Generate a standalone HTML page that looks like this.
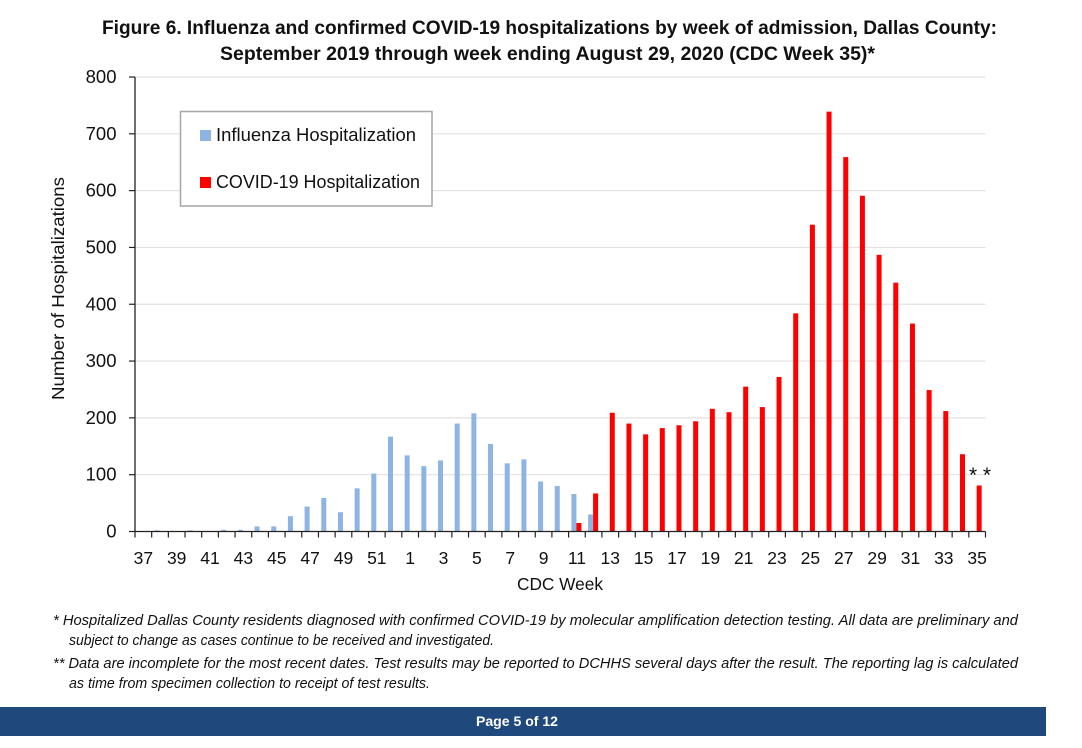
<!DOCTYPE html>
<html lang="en">
<head>
<meta charset="utf-8">
<title>Figure 6. Influenza and confirmed COVID-19 hospitalizations</title>
<style>
html,body{margin:0;padding:0;background:#fff;width:1082px;height:748px;overflow:hidden}
svg{display:block;font-family:"Liberation Sans",sans-serif}
text{fill:#111}
</style>
</head>
<body>
<svg id="chart" width="1082" height="748" viewBox="0 0 1082 748" xmlns="http://www.w3.org/2000/svg">
  <rect x="0" y="0" width="1082" height="748" fill="#fff"/>
  <text x="102" y="34" font-size="19.5" font-weight="bold" textLength="895" lengthAdjust="spacingAndGlyphs">Figure 6. Influenza and confirmed COVID-19 hospitalizations by week of admission, Dallas County:</text>
  <text x="220" y="60" font-size="19.5" font-weight="bold" textLength="655" lengthAdjust="spacingAndGlyphs">September 2019 through week ending August 29, 2020 (CDC Week 35)*</text>

  <g id="grid"></g>
  <g id="bars-flu"></g>
  <g id="bars-covid"></g>
  <g id="axes"></g>

  <text transform="translate(64,400) rotate(-90)" x="0" y="0" font-size="17.5" textLength="223" lengthAdjust="spacingAndGlyphs">Number of Hospitalizations</text>
  <text x="517" y="590" font-size="17.5" textLength="86" lengthAdjust="spacingAndGlyphs">CDC Week</text>
  <text x="969" y="482" font-size="21" textLength="22" lengthAdjust="spacing">**</text>

  <g>
    <rect x="180.5" y="111.5" width="251.5" height="94.5" fill="#fff" stroke="#a6a6a6" stroke-width="1.5"/>
    <rect x="200" y="130" width="11" height="11" fill="#8eb4e3"/>
    <text x="216" y="141" font-size="18" textLength="200" lengthAdjust="spacingAndGlyphs">Influenza Hospitalization</text>
    <rect x="200" y="177" width="11" height="11" fill="#ff0000"/>
    <text x="216" y="188" font-size="18" textLength="204" lengthAdjust="spacingAndGlyphs">COVID-19 Hospitalization</text>
  </g>

  <g font-size="14.5" font-style="italic">
    <text x="53" y="625" textLength="965" lengthAdjust="spacingAndGlyphs">* Hospitalized Dallas County residents diagnosed with confirmed COVID-19 by molecular amplification detection testing. All data are preliminary and</text>
    <text x="69" y="645" textLength="425" lengthAdjust="spacingAndGlyphs">subject to change as cases continue to be received and investigated.</text>
    <text x="53" y="668" textLength="965" lengthAdjust="spacingAndGlyphs">** Data are incomplete for the most recent dates. Test results may be reported to DCHHS several days after the result. The reporting lag is calculated</text>
    <text x="69" y="688" textLength="361" lengthAdjust="spacingAndGlyphs">as time from specimen collection to receipt of test results.</text>
  </g>

  <rect x="0" y="707" width="1046" height="29" fill="#1f497d"/>
  <text x="476" y="726" font-size="14" font-weight="bold" textLength="82" lengthAdjust="spacingAndGlyphs" style="fill:#fff">Page 5 of 12</text>
</svg>
<script>
const categories = [37,38,39,40,41,42,43,44,45,46,47,48,49,50,51,52,1,2,3,4,5,6,7,8,9,10,11,12,13,14,15,16,17,18,19,20,21,22,23,24,25,26,27,28,29,30,31,32,33,34,35];
const fluValues = [0,2,1,2,0,3,3,9,9,27,44,59,34,76,102,167,134,115,125,190,208,154,120,127,88,80,66,30,0,0,0,0,0,0,0,0,0,0,0,0,0,0,0,0,0,0,0,0,0,0,0];
const covidValues = [0,0,0,0,0,0,0,0,0,0,0,0,0,0,0,0,0,0,0,0,0,0,0,0,0,0,15,67,209,190,171,182,187,194,216,210,255,219,272,384,540,739,659,591,487,438,366,249,212,136,81];
const yTickValues = [0,100,200,300,400,500,600,700,800];

const NS = 'http://www.w3.org/2000/svg';
const plotLeft = 135, plotRight = 985.5, plotBottom = 531.5, plotTop = 77, yMax = 800;
const band = (plotRight - plotLeft) / categories.length;
function xScale(i) { return plotLeft + (i + 0.5) * band; }
function yScale(v) { return plotBottom - (v / yMax) * (plotBottom - plotTop); }
function make(tag, attrs, parent) {
  const el = document.createElementNS(NS, tag);
  for (const k in attrs) el.setAttribute(k, attrs[k]);
  parent.appendChild(el);
  return el;
}
const grid = document.getElementById('grid');
const axes = document.getElementById('axes');
const barsFlu = document.getElementById('bars-flu');
const barsCovid = document.getElementById('bars-covid');

yTickValues.forEach(function (v) {
  const y = yScale(v);
  if (v > 0) {
    const g = make('line', {x1: plotLeft, x2: plotRight, y1: y, y2: y, stroke: '#e2e2e2', 'stroke-width': 1.2}, grid);
    
    
  }
  const t = make('line', {x1: plotLeft - 6, x2: plotLeft, y1: y, y2: y, stroke: '#222', 'stroke-width': 1.2}, axes);
  
  
  const l = make('text', {x: 116.5, y: y + 6, 'font-size': 18.5, 'text-anchor': 'end'}, axes);
  l.textContent = v;
  
  
});

fluValues.forEach(function (v, i) {
  if (v <= 0) return;
  const r = make('rect', {x: xScale(i) - 5.5, y: yScale(v), width: 5, height: plotBottom - yScale(v), fill: '#8eb4e3'}, barsFlu);
  
  
});
covidValues.forEach(function (v, i) {
  if (v <= 0) return;
  const r = make('rect', {x: xScale(i) - 0.5, y: yScale(v), width: 5, height: plotBottom - yScale(v), fill: '#ff0000'}, barsCovid);
  
  
});

const yAxisLine = make('line', {x1: plotLeft, x2: plotLeft, y1: plotTop, y2: plotBottom, stroke: '#222', 'stroke-width': 1.3}, axes);


const xAxisLine = make('line', {x1: plotLeft, x2: plotRight, y1: plotBottom, y2: plotBottom, stroke: '#222', 'stroke-width': 1.3}, axes);



for (let i = 0; i <= categories.length; i++) {
  const x = plotLeft + i * band;
  const t = make('line', {x1: x, x2: x, y1: plotBottom, y2: plotBottom + 6, stroke: '#222', 'stroke-width': 1.2}, axes);
  
  
}
categories.forEach(function (c, i) {
  if (i % 2 !== 0) return;
  const l = make('text', {x: xScale(i), y: 564, 'font-size': 17.5, 'text-anchor': 'middle'}, axes);
  l.textContent = c;
  
  
});
</script>
</body>
</html>
